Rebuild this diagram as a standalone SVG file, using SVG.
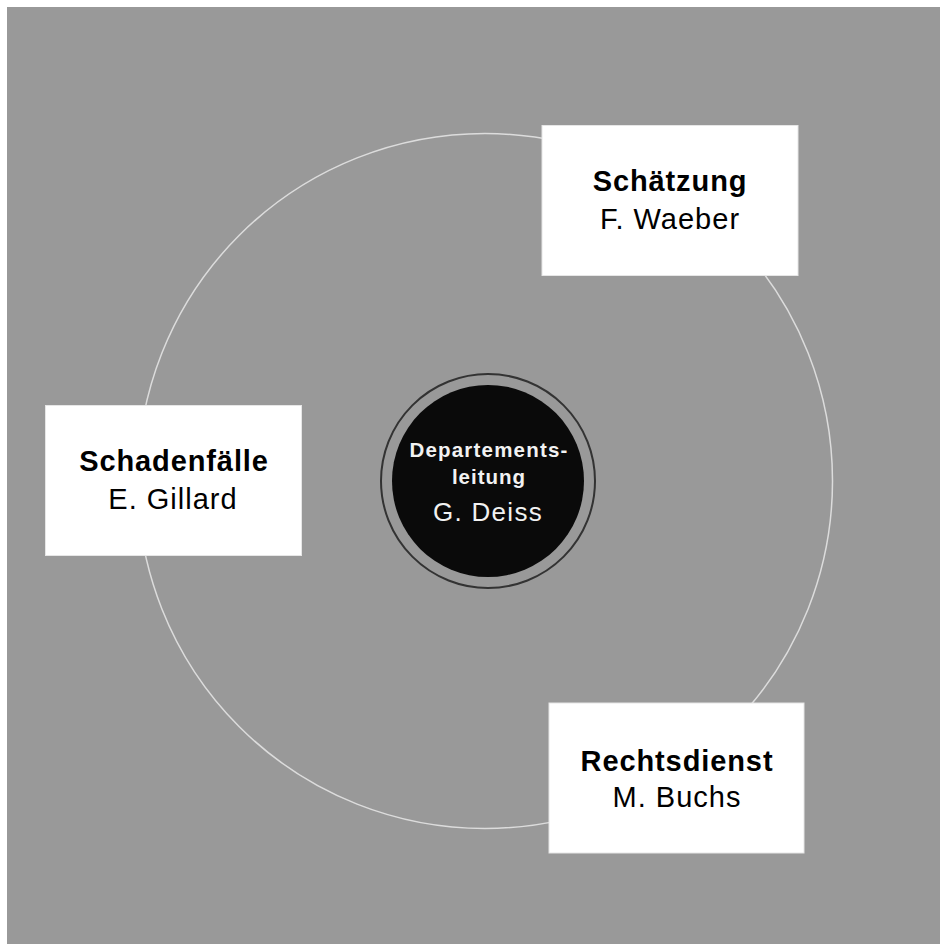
<svg xmlns="http://www.w3.org/2000/svg" width="940" height="944" viewBox="0 0 940 944">
<style>
.box{fill:#ffffff;stroke:#e6e6e6;stroke-width:1}
.t{font-family:"Liberation Sans",Arial,sans-serif;text-anchor:middle;fill:#000}
.b{font-weight:bold;font-size:29px;letter-spacing:0.9px}
.r{font-size:29px;letter-spacing:1px}
.w{font-family:"Liberation Sans",Arial,sans-serif;text-anchor:middle;fill:#f2f2f2}
</style>
<rect x="0" y="0" width="940" height="944" fill="#ffffff"/>
<rect x="7" y="7" width="933" height="937" fill="#999999"/>
<g id="connectors">
<circle cx="485" cy="481" r="347.5" fill="none" stroke="#dcdcdc" stroke-width="1.5"/>
</g>
<g id="center">
<circle cx="488" cy="481" r="107" fill="none" stroke="#333333" stroke-width="2"/>
<circle cx="488" cy="481" r="96" fill="#0a0a0a"/>
<text class="w" x="489" y="457" font-size="20.5" font-weight="bold" letter-spacing="1.2">Departements-</text>
<text class="w" x="489" y="484" font-size="20.5" font-weight="bold" letter-spacing="1">leitung</text>
<text class="w" x="488" y="521" font-size="26" letter-spacing="1.3">G. Deiss</text>
</g>
<g id="schaetzung">
<rect class="box" x="542" y="125.5" width="256" height="150"/>
<text class="t b" x="670" y="191">Schätzung</text>
<text class="t r" x="670" y="229">F. Waeber</text>
</g>
<g id="schadenfaelle">
<rect class="box" x="45.5" y="405.5" width="256" height="150"/>
<text class="t b" x="174" y="471">Schadenfälle</text>
<text class="t r" x="173" y="509">E. Gillard</text>
</g>
<g id="rechtsdienst">
<rect class="box" x="549" y="703" width="255" height="150"/>
<text class="t b" x="677" y="771">Rechtsdienst</text>
<text class="t r" x="677" y="807">M. Buchs</text>
</g>
</svg>
